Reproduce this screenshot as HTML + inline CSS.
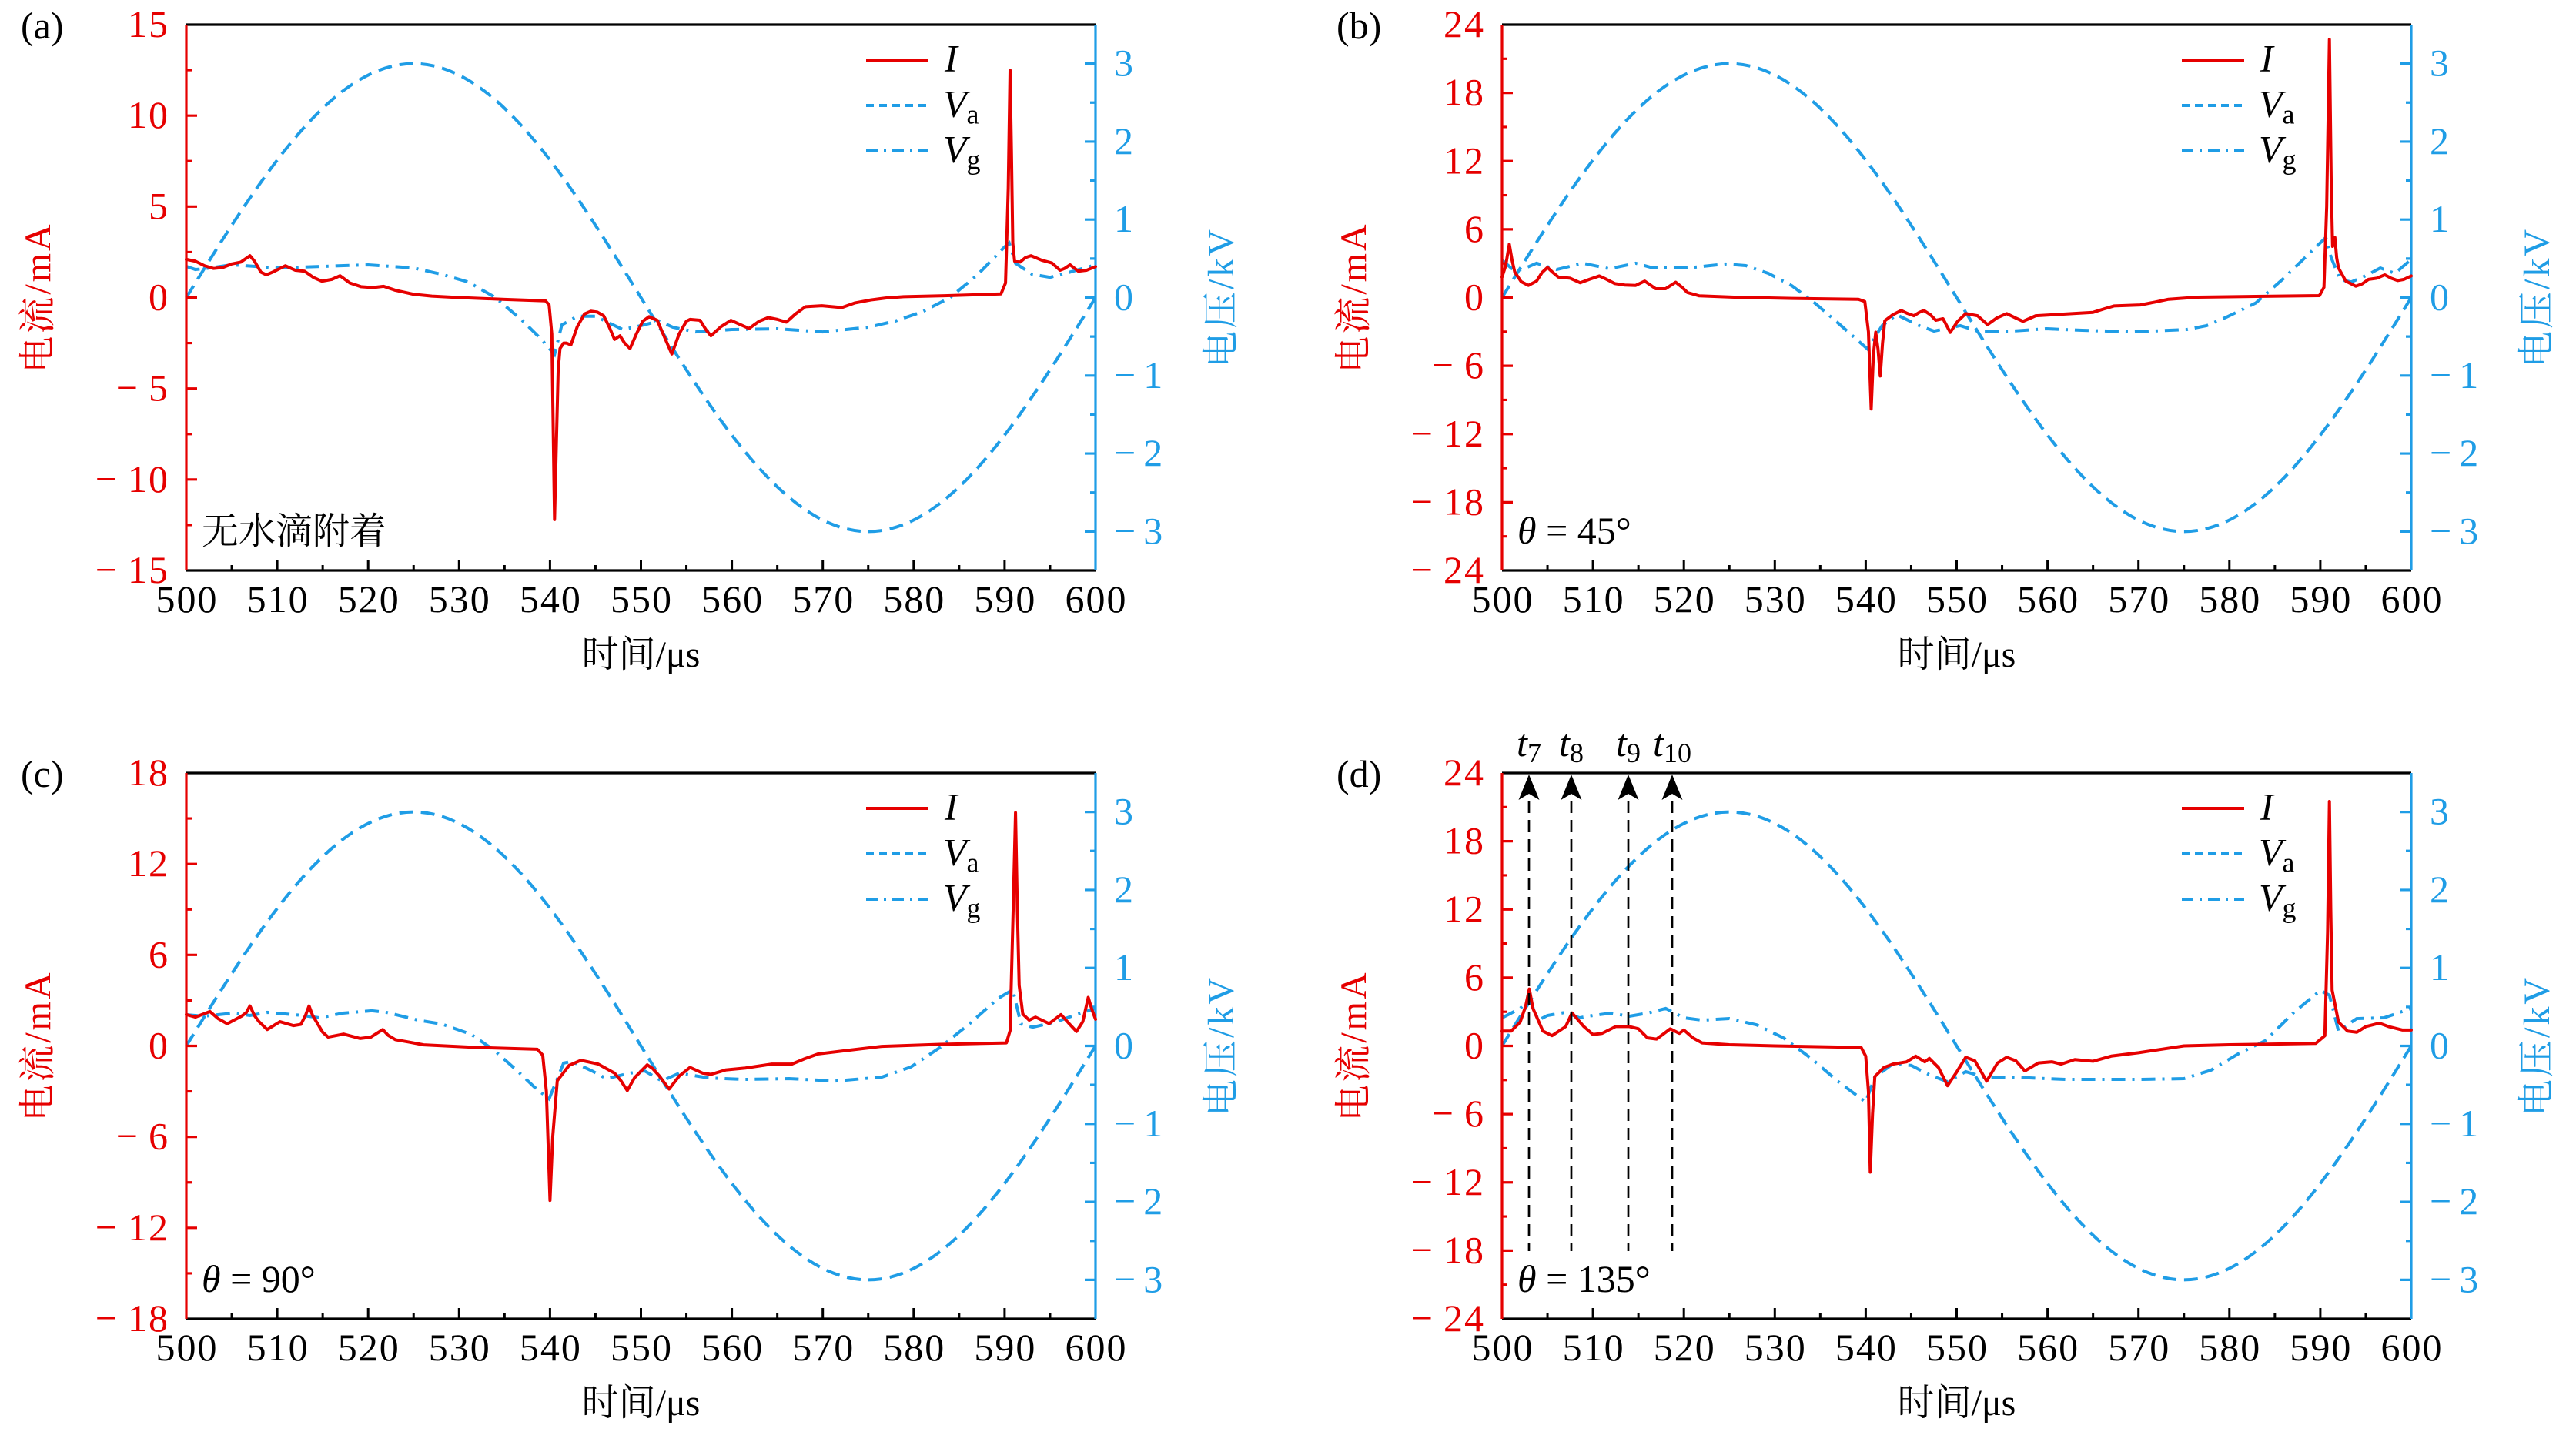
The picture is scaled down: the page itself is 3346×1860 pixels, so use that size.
<!DOCTYPE html>
<html><head><meta charset="utf-8">
<style>
html,body{margin:0;padding:0;background:#fff;}
svg{display:block;}
.i{fill:none;stroke:#e60000;stroke-width:4;stroke-linejoin:round;stroke-linecap:round;vector-effect:non-scaling-stroke;}
.va{fill:none;stroke:#1f9de6;stroke-width:4;stroke-dasharray:18 10;vector-effect:non-scaling-stroke;}
.vg{fill:none;stroke:#1f9de6;stroke-width:4;stroke-dasharray:18 9 3 9;vector-effect:non-scaling-stroke;}
.n{font-family:"Liberation Serif",serif;font-size:50px;}
.num{letter-spacing:2px;}
.cn{font-family:"Liberation Serif","Noto Serif CJK SC",serif;font-size:48px;}
.r{fill:#e60000;}
.b{fill:#1f9de6;}
.k{fill:#000;}
</style></head>
<body>
<svg width="3346" height="1860" viewBox="0 0 3346 1860" xmlns="http://www.w3.org/2000/svg">
<defs>
<g id="frame">
  <path d="M0,0H1181M0,709H1181" stroke="#000" stroke-width="3.2" fill="none"/>
  <path d="M118.1,709v-14M236.2,709v-14M354.3,709v-14M472.4,709v-14M590.5,709v-14M708.6,709v-14M826.7,709v-14M944.8,709v-14M1062.9,709v-14M59.05,709v-7M177.15,709v-7M295.25,709v-7M413.35,709v-7M531.45,709v-7M649.55,709v-7M767.65,709v-7M885.75,709v-7M1003.85,709v-7M1121.95,709v-7" stroke="#000" stroke-width="3" fill="none"/>
  <path d="M1181,0V709M1181,50.63h-14M1181,151.92h-14M1181,253.21h-14M1181,354.5h-14M1181,455.79h-14M1181,557.08h-14M1181,658.37h-14M1181,101.27h-7M1181,202.56h-7M1181,303.85h-7M1181,405.15h-7M1181,506.44h-7M1181,607.73h-7" stroke="#1f9de6" stroke-width="3.2" fill="none"/>
  <g class="n num k" text-anchor="middle">
    <text x="1" y="763">500</text><text x="119.1" y="763">510</text><text x="237.2" y="763">520</text><text x="355.3" y="763">530</text><text x="473.4" y="763">540</text><text x="591.5" y="763">550</text><text x="709.6" y="763">560</text><text x="827.7" y="763">570</text><text x="945.8" y="763">580</text><text x="1063.9" y="763">590</text><text x="1182" y="763">600</text>
  </g>
  <g class="n b">
    <text x="1205" y="66.6">3</text><text x="1205" y="167.9">2</text><text x="1205" y="269.2">1</text><text x="1205" y="370.5">0</text><text x="1205" y="471.8">&#8722;&#8201;1</text><text x="1205" y="573.1">&#8722;&#8201;2</text><text x="1205" y="674.4">&#8722;&#8201;3</text>
  </g>
  <text class="cn k" x="590.5" y="834" text-anchor="middle">时间/μs</text>
  <text class="cn r" transform="translate(-194,354.5) rotate(-90)" y="17" text-anchor="middle" letter-spacing="3">电流/mA</text>
  <text class="cn b" transform="translate(1343,354.5) rotate(-90)" y="17" text-anchor="middle" letter-spacing="3">电压/kV</text>
  <path d="M883,46H964" stroke="#e60000" stroke-width="4"/>
  <path d="M883,105H964" class="va" style="stroke-dasharray:10 7"/>
  <path d="M883,164H964" class="vg" style="stroke-dasharray:15 8 3 8"/>
  <text class="n k" x="985" y="60.5" font-style="italic">I</text>
  <text class="n k" x="983" y="119.5"><tspan font-style="italic">V</tspan><tspan font-size="36" dy="9">a</tspan></text>
  <text class="n k" x="983" y="178.5"><tspan font-style="italic">V</tspan><tspan font-size="36" dy="9">g</tspan></text>
  <path class="va" transform="translate(0,354.5) scale(11.81,-101.29)" d="M0,0 C8.153,1.537 15.952,3 25,3 C34.048,3 41.847,1.537 50,0 C58.153,-1.537 65.952,-3 75,-3 C84.048,-3 91.847,-1.537 100,0"/>
</g>
<g id="left6">
  <path d="M0,0V709M0,88.63h14M0,177.25h14M0,265.88h14M0,354.5h14M0,443.13h14M0,531.75h14M0,620.38h14M0,44.31h7M0,132.94h7M0,221.56h7M0,310.19h7M0,398.81h7M0,487.44h7M0,576.06h7M0,664.69h7" stroke="#e60000" stroke-width="3.2" fill="none"/>
  <g class="n num r" text-anchor="end">
    <text x="-22" y="16">24</text><text x="-22" y="104.6">18</text><text x="-22" y="193.3">12</text><text x="-22" y="281.9">6</text><text x="-22" y="370.5">0</text><text x="-22" y="459.1">&#8722;&#8201;6</text><text x="-22" y="547.8">&#8722;&#8201;12</text><text x="-22" y="636.4">&#8722;&#8201;18</text><text x="-22" y="725">&#8722;&#8201;24</text>
  </g>
</g>
</defs>

<!-- Panel (a) -->
<g transform="translate(242,32)">
  <path class="vg" transform="translate(0,354.5) scale(11.81,-101.29)" d="M0,0.4 L1,0.36 L2,0.37 L5,0.42 L10,0.38 L15,0.4 L20,0.42 L25,0.38 L28,0.3 L31,0.2 L34,0 L37,-0.3 L39,-0.53 L40.5,-0.73 L41.3,-0.35 L43,-0.24 L45,-0.24 L48,-0.41 L50,-0.36 L52,-0.3 L53.5,-0.38 L56,-0.44 L60,-0.41 L65,-0.4 L70,-0.44 L75,-0.38 L78,-0.3 L81,-0.18 L84,0 L87,0.29 L90,0.65 L90.5,0.7 L91.2,0.44 L93,0.3 L95,0.26 L97,0.32 L100,0.42"/>
  <use href="#frame"/>
  <path class="i" transform="translate(0,354.5) scale(11.81,-23.633)" d="M0,2.1 L1,2.0 L2,1.75 L3,1.6 L4,1.65 L5,1.85 L6,1.95 L7,2.3 L7.5,2.0 L8.2,1.4 L8.8,1.25 L9.5,1.4 L10.9,1.75 L12,1.5 L13,1.45 L14,1.1 L14.9,0.9 L16,1.0 L16.9,1.2 L18,0.8 L19.2,0.6 L20.5,0.55 L21.7,0.62 L23,0.4 L25,0.18 L27,0.08 L30,0 L35,-0.1 L39.5,-0.18 L39.9,-0.4 L40.2,-2 L40.5,-12.2 L40.7,-8 L40.9,-4 L41.1,-2.8 L41.5,-2.5 L41.8,-2.5 L42.3,-2.6 L43,-1.6 L43.8,-0.9 L44.5,-0.75 L45.2,-0.8 L45.9,-1.0 L46.5,-1.6 L47.1,-2.3 L47.7,-2.1 L48.2,-2.5 L48.8,-2.8 L49.5,-2.0 L50.2,-1.3 L50.9,-1.05 L51.8,-1.25 L52.7,-2.3 L53.4,-3.1 L54.2,-2.0 L55,-1.3 L55.4,-1.2 L56.5,-1.25 L57.2,-1.8 L57.7,-2.1 L58.8,-1.6 L59.9,-1.25 L61,-1.5 L61.9,-1.7 L63,-1.3 L64,-1.1 L65,-1.2 L66,-1.35 L67,-0.9 L68.1,-0.5 L69.9,-0.45 L72.1,-0.55 L73.5,-0.3 L75.3,-0.13 L77,-0.02 L78.9,0.05 L83.4,0.1 L89.6,0.2 L90.1,0.8 L90.4,6 L90.6,12.5 L90.75,8 L90.9,3 L91.1,2.0 L91.7,1.95 L92.3,2.2 L92.9,2.3 L94.1,2.05 L95.2,1.9 L96.1,1.5 L96.6,1.6 L97.2,1.8 L98.1,1.45 L99,1.5 L100,1.7"/>
  <path d="M0,0V709M0,118.17h14M0,236.33h14M0,354.5h14M0,472.67h14M0,590.83h14M0,59.08h7M0,177.25h7M0,295.42h7M0,413.58h7M0,531.75h7M0,649.92h7" stroke="#e60000" stroke-width="3.2" fill="none"/>
  <g class="n num r" text-anchor="end">
    <text x="-22" y="16">15</text><text x="-22" y="134.2">10</text><text x="-22" y="252.3">5</text><text x="-22" y="370.5">0</text><text x="-22" y="488.7">&#8722;&#8201;5</text><text x="-22" y="606.8">&#8722;&#8201;10</text><text x="-22" y="725">&#8722;&#8201;15</text>
  </g>
  <text class="n k" x="-215" y="18">(a)</text>
  <text class="cn k" x="20" y="674">无水滴附着</text>
</g>

<!-- Panel (b) -->
<g transform="translate(1951,32)">
  <path class="vg" transform="translate(0,354.5) scale(11.81,-101.29)" d="M0,0.48 L1.3,0.35 L2.2,0.36 L3.8,0.44 L6,0.36 L8.9,0.44 L11.8,0.37 L14.7,0.44 L16.6,0.38 L20.4,0.38 L24.6,0.43 L26.8,0.41 L29.3,0.31 L31.9,0.15 L34.4,-0.07 L37,-0.33 L40.2,-0.66 L41.8,-0.36 L43.4,-0.22 L45.9,-0.36 L47.5,-0.43 L50.4,-0.36 L52.3,-0.43 L56.1,-0.43 L59.9,-0.4 L63.8,-0.42 L69.5,-0.44 L75.3,-0.41 L77.5,-0.36 L79.7,-0.25 L82.9,-0.07 L86.1,0.26 L89,0.59 L90.6,0.77 L91.2,0.51 L92.2,0.23 L93.4,0.2 L95,0.28 L96.6,0.38 L98.2,0.31 L100,0.49"/>
  <use href="#frame"/>
  <path class="i" transform="translate(0,354.5) scale(11.81,-14.77)" d="M0,1.8 L0.4,2.8 L0.8,4.7 L1.1,3.3 L1.4,2.25 L2.1,1.4 L2.9,1.07 L3.8,1.45 L4.4,2.2 L5,2.65 L5.6,2.2 L6.2,1.8 L7.5,1.7 L8.6,1.3 L9.6,1.6 L10.7,1.9 L11.5,1.6 L12.4,1.23 L13.5,1.1 L14.7,1.07 L15.7,1.45 L16.9,0.78 L18,0.78 L19.1,1.35 L19.8,0.9 L20.4,0.44 L21.7,0.15 L25.5,0.03 L31.9,-0.08 L39.2,-0.15 L39.9,-0.35 L40.3,-3 L40.6,-9.8 L40.85,-5 L41.1,-3.05 L41.35,-4.5 L41.6,-6.9 L41.85,-4 L42.1,-2.04 L43,-1.5 L43.9,-1.14 L44.6,-1.4 L45.3,-1.6 L45.9,-1.3 L46.4,-1.14 L47.1,-1.5 L47.7,-2.0 L48.5,-1.86 L49.3,-3.06 L50.1,-2.1 L51,-1.41 L52.3,-1.6 L53.4,-2.38 L54.4,-1.8 L55.5,-1.41 L56.5,-1.8 L57.3,-2.09 L58.7,-1.6 L61.2,-1.48 L63,-1.4 L65,-1.3 L66.2,-1.0 L67.3,-0.74 L70.2,-0.65 L71.8,-0.4 L73.3,-0.15 L76.5,0.03 L82.9,0.1 L89.9,0.17 L90.4,0.9 L90.7,8 L91.0,22.7 L91.2,10 L91.35,4.5 L91.6,5.3 L91.8,3.5 L92,2.6 L92.8,1.45 L93.9,1.0 L94.6,1.2 L95.3,1.6 L96.2,1.7 L97.1,2.0 L97.8,1.7 L98.5,1.5 L99.2,1.6 L100,1.9"/>
  <use href="#left6"/>
  <text class="n k" x="-215" y="18">(b)</text>
  <text class="n k" x="20" y="674"><tspan font-style="italic">θ</tspan> = 45°</text>
</g>

<!-- Panel (c) -->
<g transform="translate(242,1004)">
  <path class="vg" transform="translate(0,354.5) scale(11.81,-101.29)" d="M0,0.4 L1.9,0.38 L5.1,0.42 L7,0.39 L8.9,0.43 L12.8,0.39 L14.7,0.36 L17.2,0.42 L20.4,0.45 L22,0.43 L25.5,0.33 L28.1,0.28 L31.3,0.15 L33.8,-0.05 L36.4,-0.32 L38.3,-0.53 L39.9,-0.68 L41.5,-0.22 L42.4,-0.2 L44.6,-0.32 L46.2,-0.42 L48.8,-0.35 L50.4,-0.32 L52.3,-0.45 L54.2,-0.35 L57.4,-0.41 L61.2,-0.43 L66.3,-0.42 L71.4,-0.45 L76.5,-0.4 L79.7,-0.27 L82.9,-0.02 L86.1,0.28 L89.3,0.61 L90.9,0.72 L91.8,0.28 L93.1,0.24 L95.7,0.31 L97.6,0.39 L100,0.48"/>
  <use href="#frame"/>
  <path class="i" transform="translate(0,354.5) scale(11.81,-19.67)" d="M0,2.07 L1,1.9 L2.6,2.27 L3.5,1.8 L4.5,1.46 L6.1,1.97 L6.6,2.2 L7,2.64 L7.5,2.0 L8,1.6 L8.9,1.08 L10.3,1.6 L11.8,1.34 L12.6,1.42 L13.1,2.0 L13.5,2.64 L13.9,2.0 L14.3,1.6 L15,0.9 L15.6,0.58 L17.3,0.78 L19.1,0.49 L20.3,0.58 L21.6,1.08 L22.2,0.7 L23,0.41 L24.5,0.25 L26.1,0.07 L31.9,-0.1 L38.6,-0.22 L39.2,-0.61 L39.6,-3 L40,-10.2 L40.3,-6 L40.8,-2.3 L42.1,-1.29 L43.4,-0.95 L45.3,-1.2 L46.2,-1.5 L47.1,-1.8 L47.8,-2.3 L48.5,-2.95 L49.3,-2.1 L50.7,-1.25 L51.3,-1.5 L52,-1.97 L53.1,-2.85 L54.2,-2.0 L55.4,-1.42 L56.8,-1.8 L57.7,-1.88 L59.3,-1.59 L61.5,-1.46 L64.4,-1.2 L66.6,-1.2 L68,-0.85 L69.5,-0.53 L72.7,-0.3 L76.5,-0.03 L82.9,0.1 L90.2,0.2 L90.6,1 L90.9,8 L91.2,15.4 L91.4,9 L91.6,4 L92,2.1 L92.7,1.7 L93.4,1.9 L94.9,1.47 L96.2,2.07 L97.2,1.4 L97.9,0.95 L98.6,1.6 L99.2,3.2 L99.6,2.4 L100,1.76"/>
  <path d="M0,0V709M0,118.17h14M0,236.33h14M0,354.5h14M0,472.67h14M0,590.83h14M0,59.08h7M0,177.25h7M0,295.42h7M0,413.58h7M0,531.75h7M0,649.92h7" stroke="#e60000" stroke-width="3.2" fill="none"/>
  <g class="n num r" text-anchor="end">
    <text x="-22" y="16">18</text><text x="-22" y="134.2">12</text><text x="-22" y="252.3">6</text><text x="-22" y="370.5">0</text><text x="-22" y="488.7">&#8722;&#8201;6</text><text x="-22" y="606.8">&#8722;&#8201;12</text><text x="-22" y="725">&#8722;&#8201;18</text>
  </g>
  <text class="n k" x="-215" y="18">(c)</text>
  <text class="n k" x="20" y="674"><tspan font-style="italic">θ</tspan> = 90°</text>
</g>

<!-- Panel (d) -->
<g transform="translate(1951,1004)">
  <path class="vg" transform="translate(0,354.5) scale(11.81,-101.29)" d="M0,0.36 L2,0.48 L3,0.6 L4,0.33 L5,0.39 L7,0.43 L8.5,0.36 L10,0.39 L12,0.42 L14,0.38 L16,0.42 L18,0.48 L20,0.36 L22,0.33 L25,0.35 L28,0.27 L31,0.1 L34,-0.16 L37,-0.46 L40,-0.72 L41,-0.4 L43,-0.23 L45,-0.25 L47,-0.37 L49,-0.46 L51,-0.33 L53,-0.4 L55,-0.4 L58,-0.41 L62,-0.43 L70,-0.43 L75,-0.42 L78,-0.31 L81,-0.1 L84,0.07 L87,0.42 L90,0.71 L91,0.65 L92,0.19 L94,0.35 L97,0.36 L100,0.48"/>
  <use href="#frame"/>
  <path class="i" transform="translate(0,354.5) scale(11.81,-14.77)" d="M0,1.3 L1,1.3 L2,2.1 L2.6,3.5 L3,5.0 L3.4,3.3 L4.5,1.3 L5.5,0.9 L7,1.7 L7.7,2.9 L9,1.7 L10,1.0 L11,1.1 L12.5,1.7 L14,1.7 L15,1.5 L16,0.7 L17,0.6 L18.5,1.5 L19.5,1.1 L20,1.4 L21,0.7 L22,0.26 L25,0.1 L30,0 L39.5,-0.14 L40,-0.9 L40.3,-4 L40.5,-11.1 L40.75,-6 L41,-2.7 L42,-1.9 L43,-1.6 L44.5,-1.4 L45.5,-0.9 L46.5,-1.4 L47,-1.1 L48,-1.9 L49,-3.5 L50,-2.3 L51,-1.0 L52,-1.3 L53.3,-3.1 L54.5,-1.5 L55.5,-1.0 L56.5,-1.3 L57.5,-2.2 L59,-1.5 L60.5,-1.4 L61.5,-1.6 L63,-1.2 L65,-1.35 L67,-0.9 L70,-0.6 L72.5,-0.3 L75,0 L80,0.1 L89.5,0.22 L90.5,0.9 L90.8,10 L91,21.5 L91.15,12 L91.3,4.9 L92,2.1 L93,1.3 L94,1.2 L95,1.7 L96.5,2.0 L97.5,1.7 L99,1.4 L100,1.4"/>
  <use href="#left6"/>
  <text class="n k" x="-215" y="18">(d)</text>
  <text class="n k" x="20" y="674"><tspan font-style="italic">θ</tspan> = 135°</text>
  <g stroke="#000" stroke-width="2.7" stroke-dasharray="16 9" fill="none">
    <path d="M35,36V621"/><path d="M90,36V621"/><path d="M164,36V621"/><path d="M221,36V621"/>
  </g>
  <g fill="#000">
    <path d="M35,2 L48.5,35 L35,27 L21.5,35 Z"/>
    <path d="M90,2 L103.5,35 L90,27 L76.5,35 Z"/>
    <path d="M164,2 L177.5,35 L164,27 L150.5,35 Z"/>
    <path d="M221,2 L234.5,35 L221,27 L207.5,35 Z"/>
  </g>
  <g class="n k" text-anchor="middle">
    <text x="35" y="-22"><tspan font-style="italic">t</tspan><tspan font-size="36" dy="8">7</tspan></text>
    <text x="90" y="-22"><tspan font-style="italic">t</tspan><tspan font-size="36" dy="8">8</tspan></text>
    <text x="164" y="-22"><tspan font-style="italic">t</tspan><tspan font-size="36" dy="8">9</tspan></text>
    <text x="221" y="-22"><tspan font-style="italic">t</tspan><tspan font-size="36" dy="8">10</tspan></text>
  </g>
</g>
</svg>
</body></html>
